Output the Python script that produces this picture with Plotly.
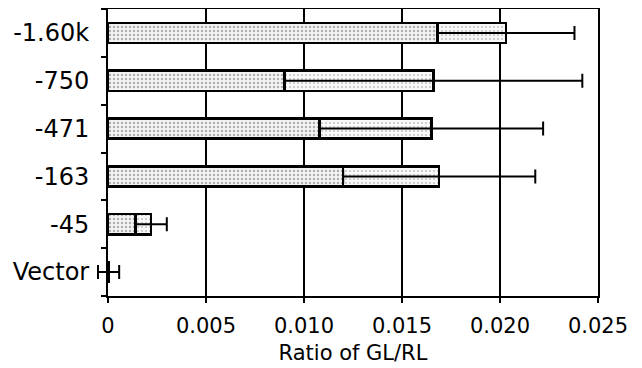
import plotly.graph_objects as go

constructs = ["Vector", "-45", "-163", "-471", "-750", "-1.60k"]
ratio = [0.00003, 0.0022, 0.0169, 0.0165, 0.0166, 0.0203]
err = [0.00054, 0.0008, 0.0049, 0.0057, 0.0076, 0.0035]
x_ticks = [0, 0.005, 0.010, 0.015, 0.020, 0.025]
x_tick_text = ["0", "0.005", "0.010", "0.015", "0.020", "0.025"]

X_MAX = 0.025
lower = [max(0.0, r - e) for r, e in zip(ratio, err)]
upper = [r - l for r, l in zip(ratio, lower)]

# layout geometry (pixels)
W, H = 642, 368
ML, MR, MT, MB = 78, 52, 1, 80
PLOT_LEFT = 100
span = W - ML - MR
main_start = (PLOT_LEFT - ML) / span
px_per_unit = (W - MR - PLOT_LEFT) / X_MAX
x2_min = -(PLOT_LEFT - ML) / px_per_unit

fig = go.Figure()
fig.add_trace(go.Bar(
    y=constructs, x=lower, orientation="h", width=0.42,
    marker=dict(color="#f2f2f2",
                line=dict(color="black", width=2.5),
                pattern=dict(shape=".", fgcolor="#6a6a6a", bgcolor="#f4f4f4",
                             size=4, solidity=0.3)),
    showlegend=False,
))
fig.add_trace(go.Bar(
    y=constructs, x=upper, orientation="h", width=0.42,
    marker=dict(color="#f7f7f7",
                line=dict(color="black", width=2.5),
                pattern=dict(shape=".", fgcolor="#8a8a8a", bgcolor="#f8f8f8",
                             size=4, solidity=0.2)),
    showlegend=False,
))
# error bars on a wider, hidden x-axis so the Vector bar's left cap is not clipped
fig.add_trace(go.Scatter(
    y=constructs, x=ratio, mode="markers", xaxis="x2", yaxis="y",
    marker=dict(size=1, color="rgba(0,0,0,0)"),
    error_x=dict(type="data", array=err, symmetric=True,
                 color="black", thickness=2, width=7),
    showlegend=False, hoverinfo="skip",
))

font = "DejaVu Sans, Verdana, sans-serif"
fig.update_layout(
    barmode="stack",
    width=W, height=H,
    margin=dict(l=ML, r=MR, t=MT, b=MB),
    paper_bgcolor="white", plot_bgcolor="rgba(0,0,0,0)",
    font=dict(family=font, size=21, color="black"),
    xaxis=dict(
        domain=[main_start, 1],
        range=[0, X_MAX], tickvals=x_ticks, ticktext=x_tick_text,
        showgrid=True, gridcolor="black", gridwidth=2,
        showline=True, linecolor="black", linewidth=2, mirror=True,
        ticks="outside", ticklen=5, tickwidth=2, tickcolor="black",
        zeroline=False, automargin=False,
        title=dict(text="Ratio of GL/RL", font=dict(size=21), standoff=8),
        tickfont=dict(size=21), ticklabelstandoff=5,
    ),
    xaxis2=dict(
        domain=[0, 1], range=[x2_min, X_MAX], anchor="y",
        visible=False, showgrid=False, zeroline=False, fixedrange=True,
    ),
    yaxis=dict(
        anchor="x",
        categoryorder="array", categoryarray=constructs,
        showline=True, linecolor="black", linewidth=2, mirror=True,
        ticks="outside", tickson="boundaries", ticklen=5, tickwidth=2, tickcolor="black",
        showgrid=False, automargin=False, zeroline=False,
        tickfont=dict(size=24), ticklabelstandoff=12,
    ),
)
fig.write_html("out.html")
